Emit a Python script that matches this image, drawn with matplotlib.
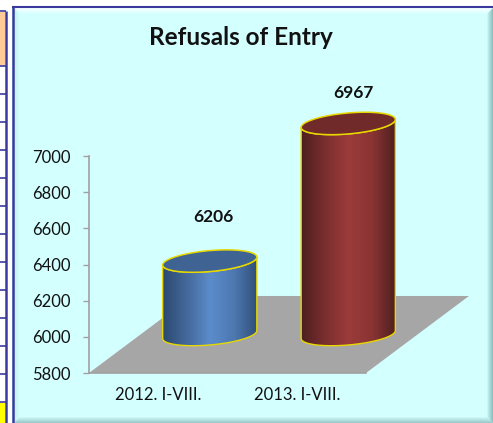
import numpy as np
from matplotlib import pyplot as plt
from matplotlib.colors import LinearSegmentedColormap, to_rgb
from matplotlib.patches import Polygon, Rectangle

plt.rcParams['font.family'] = ['Lato', 'DejaVu Sans']

title = "Refusals of Entry"
categories = ["2012. I-VIII.", "2013. I-VIII."]
values = [6206, 6967]
y_ticks = [5800, 6000, 6200, 6400, 6600, 6800, 7000]

side_colors = [["#2C4A72", "#44699B", "#5B8CCB", "#4D78B0", "#304F78"],
               ["#4E1F1F", "#7A2E2E", "#9C3B3B", "#8A3434", "#501F1F"]]
top_colors = ["#3F6494", "#712A2A"]
label_lift = [44, 30]  # px above the top of the cylinder
label_shift = [4, 5]

W, H = 493, 423
PANEL = "#D3FFFF"
BLUE = "#3A3A9E"
EDGE = "#E6D800"

fig = plt.figure(figsize=(W / 100, H / 100), dpi=100, facecolor="white")

# background stuff, in pixels
bg = fig.add_axes([0, 0, 1, 1], zorder=0)
bg.set_xlim(0, W)
bg.set_ylim(H, 0)
bg.axis("off")

# bit of the neighbouring table on the left
bg.add_patch(Rectangle((0, 12), 5, 54, fc="#FFCC99", ec="none"))
bg.add_patch(Rectangle((0, 403), 5, 20, fc="#FFFF00", ec="none"))
for y in [11.5] + list(np.arange(66.5, 403, 28)):
    bg.plot([0, 6], [y, y], color=BLUE, lw=1.2, solid_capstyle="butt")
bg.plot([5.7, 5.7], [11, H], color=BLUE, lw=1.8, solid_capstyle="butt")

# panel with a bevel that fades into the fill
bg.add_patch(Rectangle((12, 7), W - 12, H - 7, fc=PANEL, ec="none"))


def fade(edge_color, k, n):
    return tuple(np.array(to_rgb(edge_color)) + (np.array(to_rgb(PANEL)) - np.array(to_rgb(edge_color))) * k / n)


n_steps = 6
for k in range(n_steps):
    left, top_y = 14 + k, 8 + k
    right, bottom = W - k, H - k
    bg.add_patch(Polygon([(left, top_y), (right, top_y), (right - 1, top_y + 1), (left + 1, top_y + 1)],
                         fc=fade("#F4FFFF", k, n_steps), ec="none"))
    bg.add_patch(Polygon([(left, top_y), (left + 1, top_y + 1), (left + 1, bottom - 1), (left, bottom)],
                         fc=fade("#C4F0F0", k, n_steps), ec="none"))
    bg.add_patch(Polygon([(right, top_y), (right, bottom), (right - 1, bottom - 1), (right - 1, top_y + 1)],
                         fc=fade("#8FC0C0", k, n_steps), ec="none"))
    bg.add_patch(Polygon([(left, bottom), (right, bottom), (right - 1, bottom - 1), (left + 1, bottom - 1)],
                         fc=fade("#9CCACA", k, n_steps), ec="none"))
bg.plot([12.8, 12.8], [7, H], color=BLUE, lw=1.8, solid_capstyle="butt")
bg.plot([12, W], [7.3, 7.3], color=BLUE, lw=1.5, solid_capstyle="butt")

# chart axes: xlim in category slots, ylim in real values
ax = fig.add_axes([89 / W, 50 / H, 277 / W, 217 / H], zorder=1)
ax.patch.set_visible(False)
ax.set_xlim(0, 2)
ax.set_ylim(5800, 7000)
for side in ["top", "right"]:
    ax.spines[side].set_visible(False)
for side in ["left", "bottom"]:
    ax.spines[side].set_color("#A0A0A0")
    ax.spines[side].set_linewidth(1.2)

ax.set_yticks(y_ticks)
ax.set_xticks([0.5, 1.5], categories)
ax.tick_params(axis="y", length=4, width=1, color="#A0A0A0", labelsize=12, pad=9.5, labelcolor="#111111")
ax.tick_params(axis="x", length=0, labelsize=12, pad=10, labelcolor="#111111")

# floor, depth expressed in axis units
depth_x, depth_y = 103 / 138.5, 77 / 0.1808
ax.add_patch(Polygon([(0, 5800), (2, 5800), (2 + depth_x, 5800 + depth_y), (depth_x, 5800 + depth_y)],
                     fc="#A6A6A6", ec="none", clip_on=False, zorder=1))

# cylinders stand half way into the depth
half_w = 0.34
tilt, minor = 22, 58
t_low = np.linspace(np.pi, 2 * np.pi, 80)
t_all = np.linspace(0, 2 * np.pi, 160)


def ellipse(cx, cy, t):
    return np.column_stack([cx + half_w * np.cos(t), cy + tilt * np.cos(t) + minor * np.sin(t)])


for i, (val, cat) in enumerate(zip(values, categories)):
    cx = i + 0.5 + depth_x / 2
    base = 5800 + depth_y / 2
    top = val + depth_y / 2

    side = np.vstack([ellipse(cx, base, t_low), ellipse(cx, top, t_low[::-1])])
    ax.add_patch(Polygon(side, fc="none", ec=EDGE, lw=1, clip_on=False, zorder=4))
    cmap = LinearSegmentedColormap.from_list("side", side_colors[i])
    im = ax.imshow(np.linspace(0, 1, 200)[None, :], cmap=cmap, aspect="auto", zorder=3,
                   extent=[cx - half_w, cx + half_w, base - 100, top + 100])
    im.set_clip_path(Polygon(side, transform=ax.transData))
    im.set_clip_box(fig.bbox)  # red one sticks out above the axes

    ax.add_patch(Polygon(ellipse(cx, top, t_all), fc=top_colors[i], ec=EDGE, lw=1.1,
                         clip_on=False, zorder=5))
    ax.annotate(str(val), (cx, top), xytext=(label_shift[i] * 0.72, label_lift[i] * 0.72),
                textcoords="offset points", ha="center", va="center",
                fontsize=12.5, fontweight="bold", color="#111111", annotation_clip=False, zorder=6)

ax.set_xlim(0, 2)
ax.set_ylim(5800, 7000)

fig.text(240.5 / W, 1 - 37.5 / H, title, ha="center", va="center", fontsize=17.5,
         fontweight="bold", color="#111111")

fig.savefig("out.png", dpi=100)
